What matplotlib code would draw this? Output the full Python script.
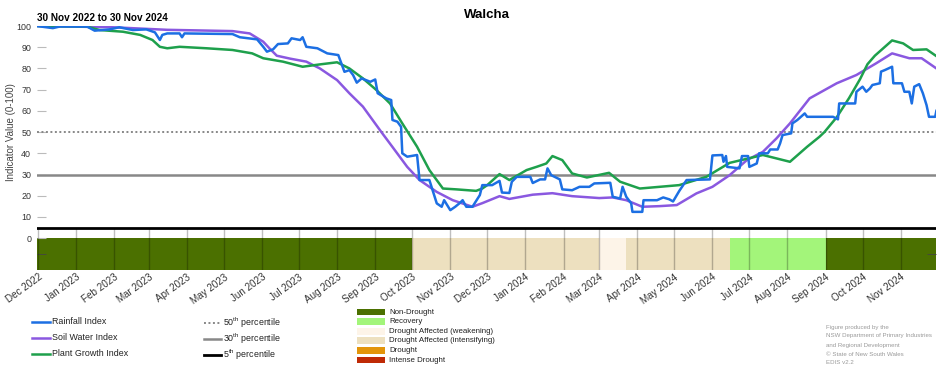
import matplotlib.pyplot as plt
from matplotlib.lines import Line2D
from matplotlib.patches import Rectangle
import pandas as pd

start = pd.Timestamp('2022-11-30')
end = pd.Timestamp('2024-11-30')

# days after 30 Nov 2022 and index values
rain_day = [0, 8, 13, 19, 41, 47, 59, 67, 78, 89, 96, 100, 102, 106, 116, 118, 120,
            159, 165, 179, 184, 187, 192, 196, 204, 207, 214, 216, 219, 228, 236,
            245, 248, 250, 254, 257, 260, 264, 271, 275, 277, 284, 288, 289, 293,
            296, 297, 301, 309, 311, 319, 325, 329, 331, 336, 340, 344, 346, 349,
            354, 360, 362, 370, 376, 378, 384, 386, 390, 401, 403, 409, 413, 415,
            418, 425, 427, 435, 441, 449, 453, 466, 468, 474, 476, 479, 483, 484,
            492, 493, 504, 509, 514, 517, 522, 528, 547, 549, 557, 558, 560, 561,
            571, 573, 578, 579, 585, 587, 594, 596, 602, 604, 606, 613, 614, 618,
            624, 626, 647, 651, 652, 665, 666, 671, 674, 677, 679, 685, 686, 689,
            695, 696, 703, 705, 709, 711, 713, 717, 720, 723, 725, 730, 731]
rain_val = [100, 99.4, 99.0, 99.8, 99.7, 97.8, 98.4, 99.4, 98.1, 98.4, 97.0, 93.4, 95.8, 96.5, 96.5, 94.7, 96.5,
            96.2, 94.7, 93.7, 90.2, 87.9, 89.0, 91.5, 91.8, 94.2, 93.4, 94.7, 90.2, 89.5, 87.1,
            86.3, 81.6, 78.4, 79.2, 76.9, 73.3, 75.3, 73.7, 74.8, 68.3, 65.9, 65.1, 55.7, 54.9,
            52.5, 40.0, 38.4, 39.2, 27.4, 27.4, 16.4, 14.8, 17.9, 13.2, 14.8, 16.7, 17.9, 14.8,
            14.8, 20.3, 25.0, 25.0, 27.0, 21.5, 21.3, 26.6, 28.9, 28.9, 26.0, 27.7, 27.7, 32.9,
            29.7, 27.7, 23.0, 22.6, 24.2, 24.2, 25.8, 26.1, 19.5, 18.7, 24.2, 19.5, 16.4, 12.4,
            12.4, 17.9, 17.9, 19.2, 18.3, 17.3, 22.2, 27.4, 27.7, 39.0, 39.2, 36.0, 38.7, 33.6,
            32.9, 38.7, 38.7, 33.6, 35.2, 40.0, 40.0, 41.8, 41.8, 44.7, 48.6, 49.4, 54.1, 55.7,
            58.8, 57.2, 57.2, 56.0, 63.5, 63.5, 69.0, 71.4, 69.0, 70.6, 72.2, 73.0, 78.5, 79.2,
            80.8, 73.0, 73.0, 69.0, 69.0, 63.5, 71.4, 72.6, 68.3, 62.7, 57.2, 57.2, 60.0]

soil_day = [0, 62, 106, 159, 173, 184, 189, 195, 206, 219, 230, 244, 254, 265, 280,
            289, 301, 311, 325, 338, 354, 362, 376, 384, 403, 419, 435, 457, 468, 479,
            492, 506, 520, 536, 549, 563, 577, 590, 601, 612, 628, 650, 666, 682, 695,
            709, 719, 731]
soil_val = [100, 99.4, 98.2, 97.6, 96.5, 92.6, 89.5, 86.0, 84.6, 83.2, 80.0, 74.5, 68.3, 62.0, 50.0,
            43.0, 33.6, 27.4, 21.8, 17.9, 14.8, 16.5, 19.8, 18.5, 20.5, 21.2, 19.8, 18.9, 19.2, 17.9,
            14.8, 15.1, 15.6, 21.1, 24.2, 29.7, 36.8, 40.7, 47.0, 54.1, 65.9, 73.0, 76.9, 82.4, 87.1,
            84.8, 84.8, 80.0]

plant_day = [0, 41, 51, 70, 84, 94, 100, 106, 116, 138, 159, 175, 184, 200, 216, 230,
             244, 254, 265, 276, 287, 297, 309, 319, 330, 341, 357, 362, 366, 376, 384,
             398, 406, 414, 419, 427, 435, 447, 465, 474, 490, 506, 522, 544, 563, 590,
             601, 612, 626, 636, 640, 650, 660, 669, 675, 681, 695, 704, 712, 723, 731]
plant_val = [100, 99.7, 98.1, 97.3, 95.8, 93.4, 90.2, 89.5, 90.2, 89.5, 88.7, 87.1, 84.8, 83.2, 80.8, 81.9,
             82.9, 80.0, 75.3, 69.8, 63.5, 54.1, 43.1, 32.1, 23.4, 23.0, 22.3, 23.4, 25.0, 30.2, 27.4,
             32.1, 33.6, 35.2, 38.7, 36.8, 30.5, 28.6, 30.8, 26.6, 23.4, 24.2, 25.0, 28.9, 35.5, 39.2,
             37.6, 36.0, 43.1, 47.8, 50.0, 57.0, 66.0, 75.0, 82.0, 86.0, 93.2, 91.8, 88.7, 89.0, 85.8]

status_start = ['2022-11-30', '2023-10-01', '2024-03-01', '2024-03-23', '2024-06-15', '2024-09-01']
status_name = ['Non-Drought', 'Drought Affected (intensifying)', 'Drought Affected (weakening)',
               'Drought Affected (intensifying)', 'Recovery', 'Non-Drought']

status_colour = {
    'Non-Drought': '#4b7000',
    'Recovery': '#a3f57a',
    'Drought Affected (weakening)': '#fdf4e8',
    'Drought Affected (intensifying)': '#ede0bf',
    'Drought': '#e3950a',
    'Intense Drought': '#bf2a06',
}

blue = '#1c6fe3'
purple = '#8a58e0'
green = '#1ea04c'


def to_dates(days):
    return start + pd.to_timedelta(days, unit='D')


def fx(px):
    return px / 952


def fy(px):
    return 1 - px / 370


plt.rcParams['font.family'] = ['Liberation Sans', 'DejaVu Sans']
plt.rcParams['mathtext.fontset'] = 'custom'
plt.rcParams['mathtext.rm'] = 'Liberation Sans'

fig = plt.figure(figsize=(9.52, 3.7), dpi=100)
ax = fig.add_axes([fx(36.8), fy(270), fx(936.4) - fx(36.8), 244 / 370])
ax.set_xlim(start, end)
ax.set_ylim(-15, 100)
for s in ax.spines.values():
    s.set_visible(False)

# drought status strip
bounds = [pd.Timestamp(s) for s in status_start] + [end]
for i, name in enumerate(status_name):
    ax.fill_between([bounds[i], bounds[i + 1]], -15, 0, color=status_colour[name], lw=0, zorder=1)

months = pd.date_range('2022-12-01', '2024-11-01', freq='MS')
ax.vlines(months, -15, 5, color='k', alpha=0.25, lw=1, zorder=2)
ax.set_xticks(months)
ax.set_xticklabels([m.strftime('%b %Y') for m in months], rotation=36, ha='right',
                   rotation_mode='anchor', fontsize=7.1, color='#333')
ax.tick_params(axis='x', length=0, pad=1.5)

ax.set_yticks(range(0, 101, 10))
ax.tick_params(axis='y', direction='in', length=6.5, color='#bbbbbb', labelsize=6.4,
               labelcolor='#333', pad=4)
ax.set_yticks([-7.5], minor=True)
ax.tick_params(axis='y', which='minor', direction='in', length=6.5, color='#444',
               left=True, right=True)

# percentile lines
ax.axhline(50, color='#888888', ls=(0, (1, 1.3)), lw=1.4, zorder=2)
ax.axhline(30, color='#888888', lw=1.8, zorder=2)
ax.axhline(5, color='black', lw=2, zorder=2)

ax.plot(to_dates(soil_day), soil_val, color=purple, lw=1.8, zorder=3)
ax.plot(to_dates(plant_day), plant_val, color=green, lw=1.8, zorder=3)
ax.plot(to_dates(rain_day), rain_val, color=blue, lw=1.8, zorder=4)

fig.text(fx(486.5), fy(15), 'Walcha', ha='center', va='center', fontsize=9.5, fontweight='bold')
fig.text(fx(37), fy(18), '30 Nov 2022 to 30 Nov 2024', ha='left', va='center', fontsize=7.2,
         fontweight='bold')
fig.text(fx(11), fy(132), 'Indicator Value (0-100)', rotation=90, ha='center', va='center',
         fontsize=7, color='#444')

# legends, drawn in figure pixels
index_names = ['Rainfall Index', 'Soil Water Index', 'Plant Growth Index']
for name, col, y in zip(index_names, [blue, purple, green], [322, 338, 354]):
    fig.add_artist(Line2D([fx(32), fx(50)], [fy(y), fy(y)], color=col, lw=1.8))
    fig.text(fx(52), fy(y), name, ha='left', va='center', fontsize=6.4, color='#222')

pct_names = ['50$^{\\mathrm{th}}$ percentile', '30$^{\\mathrm{th}}$ percentile', '5$^{\\mathrm{th}}$ percentile']
pct_styles = [dict(color='#888888', ls=(0, (1, 1.3)), lw=1.4), dict(color='#888888', lw=1.8),
              dict(color='black', lw=2)]
for name, st, y in zip(pct_names, pct_styles, [323, 339, 355]):
    fig.add_artist(Line2D([fx(204), fx(221)], [fy(y), fy(y)], **st))
    fig.text(fx(223), fy(y), name, ha='left', va='center', fontsize=6.4, color='#222')

for i, (name, col) in enumerate(status_colour.items()):
    y = 312 + i * 9.6
    fig.add_artist(Rectangle((fx(357), fy(y + 3.4)), fx(385) - fx(357), 6.8 / 370,
                             transform=fig.transFigure, color=col, lw=0))
    fig.text(fx(389), fy(y), name, ha='left', va='center', fontsize=5.7, color='#222')

credit = ['Figure produced by the', 'NSW Department of Primary Industries',
          'and Regional Development', '\u00a9 State of New South Wales', 'EDIS v2.2']
for i, line in enumerate(credit):
    fig.text(fx(826), fy(327 + i * 9), line, ha='left', va='center', fontsize=4.4, color='#9a9a9a')

fig.savefig('out.png', dpi=100)
